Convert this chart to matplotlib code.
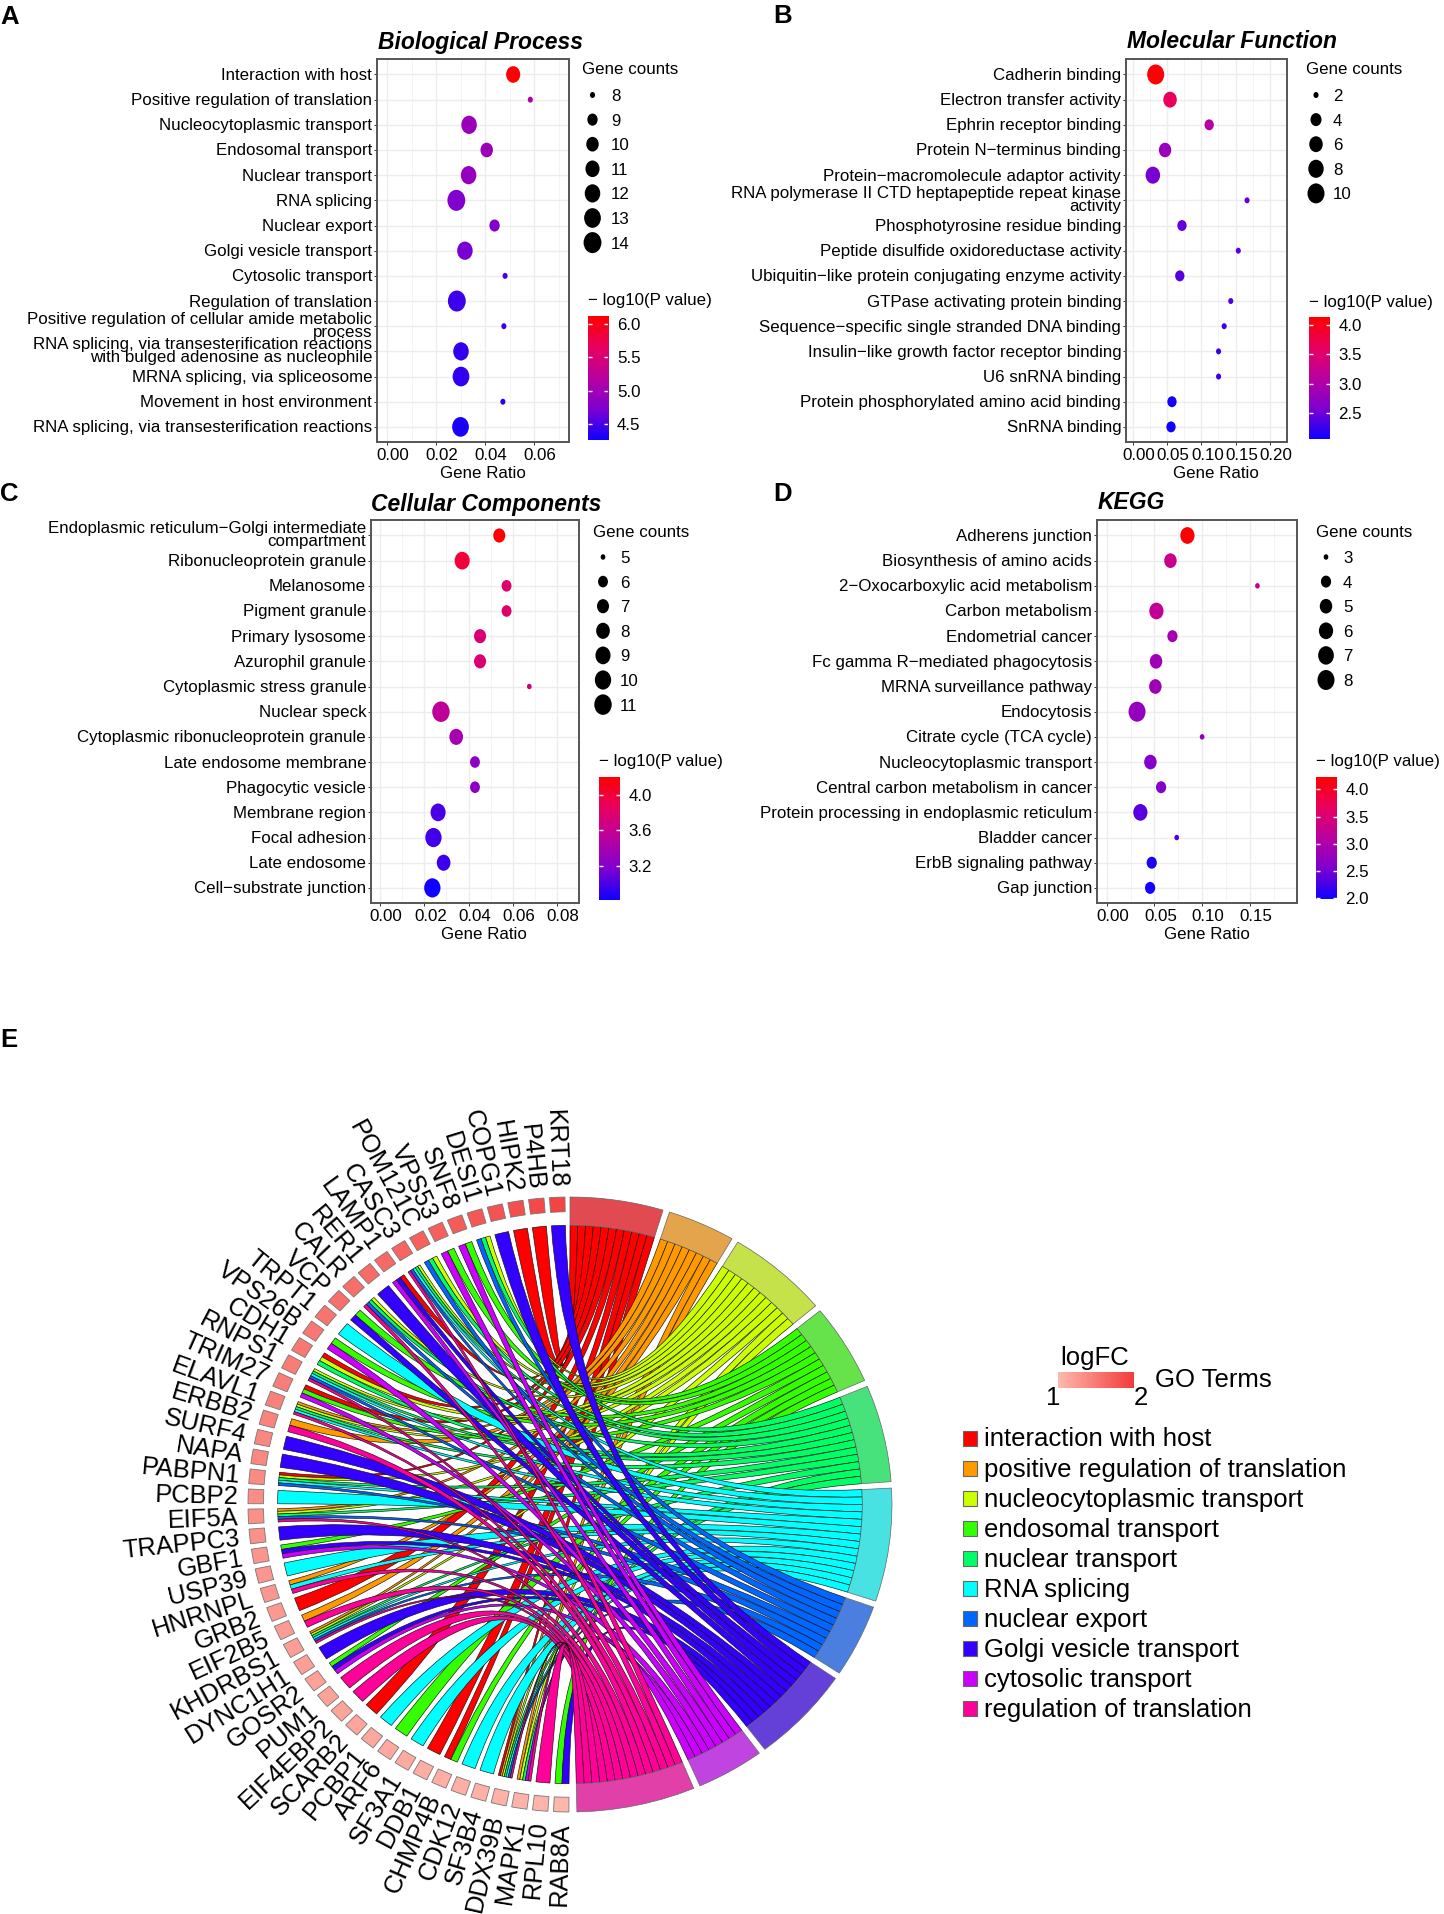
import numpy as np
import matplotlib
matplotlib.use("Agg")
import matplotlib.pyplot as plt
from matplotlib.colors import LinearSegmentedColormap
from matplotlib.markers import MarkerStyle
from matplotlib.patches import PathPatch, Rectangle
from matplotlib.path import Path
from matplotlib.transforms import Affine2D, ScaledTranslation

plt.rcParams["font.family"] = ["Liberation Sans", "DejaVu Sans"]

# panel A
bp_terms = ["Interaction with host", "Positive regulation of translation", "Nucleocytoplasmic transport",
            "Endosomal transport", "Nuclear transport", "RNA splicing", "Nuclear export",
            "Golgi vesicle transport", "Cytosolic transport", "Regulation of translation",
            "Positive regulation of cellular amide metabolic\nprocess",
            "RNA splicing, via transesterification reactions\nwith bulged adenosine as nucleophile",
            "MRNA splicing, via spliceosome", "Movement in host environment",
            "RNA splicing, via transesterification reactions"]
bp_ratio = [.0515, .0585, .0335, .0407, .0333, .0283, .0439, .0318, .0482, .0285, .0477, .0302, .0302, .0473, .0300]
bp_count = [11, 8, 12, 10, 12, 14, 9, 12, 8, 14, 8, 12, 13, 8, 13]
bp_logp = [6.1, 5.15, 4.95, 4.95, 4.9, 4.75, 4.75, 4.7, 4.5, 4.45, 4.45, 4.4, 4.4, 4.35, 4.3]

# panel B
mf_terms = ["Cadherin binding", "Electron transfer activity", "Ephrin receptor binding",
            "Protein N\u2212terminus binding", "Protein\u2212macromolecule adaptor activity",
            "RNA polymerase II CTD heptapeptide repeat kinase\nactivity", "Phosphotyrosine residue binding",
            "Peptide disulfide oxidoreductase activity", "Ubiquitin\u2212like protein conjugating enzyme activity",
            "GTPase activating protein binding", "Sequence\u2212specific single stranded DNA binding",
            "Insulin\u2212like growth factor receptor binding", "U6 snRNA binding",
            "Protein phosphorylated amino acid binding", "SnRNA binding"]
mf_ratio = [.0333, .0543, .1114, .0470, .0292, .1667, .0717, .1539, .0685, .1429, .1333, .1251, .1251, .0571, .0557]
mf_count = [10, 6, 3, 5, 7, 2, 3, 2, 3, 2, 2, 2, 2, 3, 3]
mf_logp = [4.1, 3.65, 3.05, 2.8, 2.55, 2.45, 2.45, 2.4, 2.38, 2.35, 2.3, 2.25, 2.25, 2.1, 2.06]

# panel C
cc_terms = ["Endoplasmic reticulum\u2212Golgi intermediate\ncompartment", "Ribonucleoprotein granule", "Melanosome",
            "Pigment granule", "Primary lysosome", "Azurophil granule", "Cytoplasmic stress granule", "Nuclear speck",
            "Cytoplasmic ribonucleoprotein granule", "Late endosome membrane", "Phagocytic vesicle",
            "Membrane region", "Focal adhesion", "Late endosome", "Cell\u2212substrate junction"]
cc_ratio = [.0539, .0371, .0572, .0572, .0452, .0452, .0675, .0275, .0344, .0429, .0429, .0262, .0241, .0287, .0236]
cc_count = [7, 9, 6, 6, 7, 7, 5, 11, 8, 6, 6, 9, 10, 8, 10]
cc_logp = [4.2, 4.0, 3.8, 3.8, 3.75, 3.75, 3.7, 3.55, 3.4, 3.25, 3.25, 3.0, 2.98, 2.95, 2.82]

# panel D
kegg_terms = ["Adherens junction", "Biosynthesis of amino acids", "2\u2212Oxocarboxylic acid metabolism",
              "Carbon metabolism", "Endometrial cancer", "Fc gamma R\u2212mediated phagocytosis",
              "MRNA surveillance pathway", "Endocytosis", "Citrate cycle (TCA cycle)",
              "Nucleocytoplasmic transport", "Central carbon metabolism in cancer",
              "Protein processing in endoplasmic reticulum", "Bladder cancer", "ErbB signaling pathway", "Gap junction"]
kegg_ratio = [.0846, .0668, .1580, .0521, .0689, .0517, .0510, .0318, .1000, .0458, .0570, .0353, .0734, .0472, .0455]
kegg_count = [6, 5, 3, 6, 4, 5, 5, 8, 3, 5, 4, 6, 3, 4, 4]
kegg_logp = [4.22, 3.3, 3.25, 3.2, 2.9, 2.85, 2.85, 2.75, 2.7, 2.6, 2.6, 2.35, 2.3, 2.05, 2.0]

# panel E
chord_terms = ["interaction with host", "positive regulation of translation", "nucleocytoplasmic transport",
               "endosomal transport", "nuclear transport", "RNA splicing", "nuclear export",
               "Golgi vesicle transport", "cytosolic transport", "regulation of translation"]
term_codes = "ROYGSCBIPM"
genes = ["KRT18", "P4HB", "HIPK2", "COPG1", "DESI1", "SNF8", "VPS53", "POM121C", "CASC3", "LAMP1", "RER1", "CALR",
         "VCP", "TRPT1", "VPS26B", "CDH1", "RNPS1", "TRIM27", "ELAVL1", "ERBB2", "SURF4", "NAPA", "PABPN1", "PCBP2",
         "EIF5A", "TRAPPC3", "GBF1", "USP39", "HNRNPL", "GRB2", "EIF2B5", "KHDRBS1", "DYNC1H1", "GOSR2", "PUM1",
         "EIF4EBP2", "SCARB2", "PCBP1", "ARF6", "SF3A1", "DDB1", "CHMP4B", "CDK12", "SF3B4", "DDX39B", "MAPK1",
         "RPL10", "RAB8A"]
gene_terms = ["I", "R", "R", "I", "YSB", "GP", "GP", "YSB", "YSCBM", "RIP", "I", "YSBM",
              "GI", "C", "GP", "RYS", "YSCBM", "RGP", "OYSCM", "OM", "I", "I", "RYSCB", "C",
              "OYSBM", "I", "GIP", "C", "OCM", "R", "OM", "OYSCBM", "I", "GIP", "M",
              "M", "R", "C", "G", "C", "R", "RG", "C", "C", "ROYSCBM", "OYSPM",
              "M", "GI"]
gene_logfc = [1.93, 1.89, 1.85, 1.81, 1.78, 1.75, 1.72, 1.70, 1.67, 1.64, 1.62, 1.60,
              1.58, 1.55, 1.53, 1.51, 1.49, 1.47, 1.45, 1.43, 1.41, 1.39, 1.37, 1.35,
              1.33, 1.32, 1.30, 1.28, 1.27, 1.25, 1.24, 1.22, 1.21, 1.19, 1.18,
              1.17, 1.15, 1.14, 1.13, 1.12, 1.10, 1.09, 1.08, 1.07, 1.06, 1.05, 1.04, 1.03]

ribbon_cols = ["#FF0000", "#FF9900", "#CCFF00", "#33FF00", "#00FF66", "#00FFFF", "#0066FF", "#3300FF", "#CC00FF", "#FF0099"]
ring_cols = ["#E04A50", "#E3A44C", "#C5E24A", "#66E24A", "#48E27C", "#48E2E2", "#4A7FE0", "#6440D8", "#C045E0", "#E040A8"]

W, H = 1444, 1915
DPI = 100
FS = 12.2

fig = plt.figure(figsize=(W / DPI, H / DPI), dpi=DPI)


def px_axes(left, top, right, bottom):
    return fig.add_axes([left / W, 1 - bottom / H, (right - left) / W, (bottom - top) / H])


# overlay in pixel units for legends, titles and letters
ov = fig.add_axes([0, 0, 1, 1], zorder=5)
ov.set_xlim(0, W)
ov.set_ylim(H, 0)
ov.axis("off")
ov.patch.set_alpha(0)

pval_cmap = LinearSegmentedColormap.from_list(
    "pval", ["#1000FF", "#7F00D0", "#B900A0", "#E80060", "#FF0000"])
egg = Path.unit_circle().transformed(Affine2D().scale(0.85, 1))


def dot_area(count, cmin, cmax, dmin, dmax):
    # ggplot area scale, diameter in px -> scatter size
    d = dmin + (dmax - dmin) * np.sqrt((np.asarray(count, float) - cmin) / (cmax - cmin))
    return (d * 72 / DPI) ** 2


def dotplot(terms, ratio, count, logp, box, x0, xscale, xticks, title, title_xy, counts_leg, cb_lim, cb_ticks,
            legend_x, cb_x, leg_y, xlabel_xy, dsize):
    left, top, right, bottom = box
    ax = px_axes(*box)
    y = np.arange(1, len(terms) + 1)
    sizes = dot_area(count, counts_leg[0], counts_leg[-1], *dsize)
    ax.scatter(ratio, y, s=sizes, c=logp, cmap=pval_cmap, vmin=cb_lim[0], vmax=cb_lim[1],
               marker=MarkerStyle(egg), linewidths=0, zorder=3)
    ax.set_xlim((left - x0) / xscale, (right - x0) / xscale)
    ax.set_ylim(15.6, 0.385)
    ax.set_yticks(y)
    ax.set_yticklabels(terms, fontsize=FS, linespacing=0.8, multialignment="right")
    ax.set_xticks(xticks)
    ax.set_xticks([(a + b) / 2 for a, b in zip(xticks[:-1], xticks[1:])] + [xticks[-1] + (xticks[1] - xticks[0]) / 2],
                  minor=True)
    ax.set_xticklabels(["%.2f" % v for v in xticks], fontsize=FS)
    ax.tick_params(axis="both", which="major", length=2.5, width=0.7, pad=1, color="#333333")
    ax.tick_params(axis="x", which="minor", length=0)
    shift = ScaledTranslation(6 / DPI, 0, fig.dpi_scale_trans)
    for lab in ax.get_xticklabels():
        lab.set_transform(lab.get_transform() + shift)
    lift = ScaledTranslation(0, 1.5 / DPI, fig.dpi_scale_trans)
    for lab in ax.get_yticklabels():
        lab.set_transform(lab.get_transform() + lift)
    ax.grid(True, which="major", color="#EDEDED", lw=1.0, zorder=0)
    ax.grid(True, which="minor", axis="x", color="#F2F2F2", lw=0.6, zorder=0)
    ax.set_axisbelow(True)
    for s in ax.spines.values():
        s.set_color("#555555")
        s.set_linewidth(1.4)

    ov.text(title_xy[0], title_xy[1], title, fontsize=16.5, fontweight="bold", fontstyle="italic",
            ha="center", va="center")
    ov.text(xlabel_xy[0], xlabel_xy[1], "Gene Ratio", fontsize=FS, ha="center", va="center")

    # gene count key
    kx, lx, ty = legend_x
    ov.text(kx - 10, ty + 1, "Gene counts", fontsize=FS, ha="left", va="center")
    ky = [leg_y + 24.6 * i for i in range(len(counts_leg))]
    ov.scatter([kx] * len(counts_leg), ky, s=dot_area(counts_leg, counts_leg[0], counts_leg[-1], *dsize),
               c="black", marker=MarkerStyle(egg), linewidths=0)
    for c, yy in zip(counts_leg, ky):
        ov.text(lx, yy + 0.5, str(c), fontsize=FS, ha="left", va="center")

    # colour bar
    bl, br, bt, bb = cb_x
    ov.text(bl, bt - 16, "\u2212 log10(P value)", fontsize=FS, ha="left", va="center")
    cax = px_axes(bl, bt, br, bb)
    grad = np.linspace(cb_lim[0], cb_lim[1], 256)[:, None]
    cax.imshow(grad, origin="lower", aspect="auto", extent=[0, 1, cb_lim[0], cb_lim[1]], cmap=pval_cmap,
               vmin=cb_lim[0], vmax=cb_lim[1])
    cax.hlines(cb_ticks, 0, 0.2, color="white", lw=1)
    cax.hlines(cb_ticks, 0.8, 1, color="white", lw=1)
    cax.set_xticks([])
    cax.yaxis.tick_right()
    cax.set_yticks(cb_ticks)
    cax.set_yticklabels(["%.1f" % v for v in cb_ticks], fontsize=FS)
    cax.tick_params(axis="y", length=0, pad=6)
    for lab in cax.get_yticklabels():
        lab.set_transform(lab.get_transform() + ScaledTranslation(0, 1 / DPI, fig.dpi_scale_trans))
    for s in cax.spines.values():
        s.set_visible(False)


dotplot(bp_terms, bp_ratio, bp_count, bp_logp, (377, 60, 569, 443), 387, 2450, [0, .02, .04, .06],
        "Biological Process", (480, 42.5), [8, 9, 10, 11, 12, 13, 14], (4.26, 6.12), [4.5, 5.0, 5.5, 6.0],
        (592.5, 611, 69), (587.5, 608.5, 317, 441), 96, (483, 473.5), (6, 21))
dotplot(mf_terms, mf_ratio, mf_count, mf_logp, (1126, 60, 1287, 443), 1133.3, 730, [0, .05, .10, .15, .20],
        "Molecular Function", (1232, 42), [2, 4, 6, 8, 10], (2.06, 4.13), [2.5, 3.0, 3.5, 4.0],
        (1316, 1333, 69), (1309, 1330, 318, 440), 96, (1216, 473.5), (6, 20))
dotplot(cc_terms, cc_ratio, cc_count, cc_logp, (371, 521, 579, 904), 380.7, 2325, [0, .02, .04, .06, .08],
        "Cellular Components", (486, 505), [5, 6, 7, 8, 9, 10, 11], (2.82, 4.2), [3.2, 3.6, 4.0],
        (603, 620, 532), (599, 620, 778, 901), 558, (484, 934.5), (5.5, 20.5))
dotplot(kegg_terms, kegg_ratio, kegg_count, kegg_logp, (1097, 521, 1297, 904), 1106.7, 954, [0, .05, .10, .15],
        "KEGG", (1131, 502.5), [3, 4, 5, 6, 7, 8], (1.98, 4.23), [2.0, 2.5, 3.0, 3.5, 4.0],
        (1326, 1343, 532), (1316, 1337, 778, 900), 558, (1207, 934.5), (5.5, 20))

for letter, lx, ly in [("A", 0, 17), ("B", 773, 16), ("C", 0, 494), ("D", 773, 494), ("E", 0, 1040)]:
    ov.text(lx, ly, letter, fontsize=18.5, fontweight="bold", ha="left", va="center")

# chord diagram, unit circle stretched by the axes box
cx, cy, rx, ry = 570, 1505.5, 322, 307.5
pad = 1.1
axc = px_axes(cx - pad * rx, cy - pad * ry, cx + pad * rx, cy + pad * ry)
axc.set_xlim(-pad, pad)
axc.set_ylim(-pad, pad)
axc.axis("off")

R_OUT, R_SQ, R_IN = 1.0, 0.952, 0.908
TERM_STEP, TERM_GAP = 1.527, 1.2
GENE_W, GENE_GAP = 2.75, 0.998
GENE_START = 359.1


def pt(angle, r):
    a = np.deg2rad(angle)
    return r * np.sin(a), r * np.cos(a)


def arc(a0, a1, r, n=8):
    return [pt(a, r) for a in np.linspace(a0, a1, n)]


def band(a0, a1, r0, r1):
    return arc(a0, a1, r1) + arc(a1, a0, r0)


term_counts = [sum(code in g for g in gene_terms) for code in term_codes]
term_pos = []
ang = 0.0
for n in term_counts:
    term_pos.append(ang)
    ang += n * TERM_STEP + TERM_GAP

gene_lo = [GENE_START - GENE_W - i * (GENE_W + GENE_GAP) for i in range(len(genes))]

# ribbons, terms in order so the later ones lie on top
for ti, code in enumerate(term_codes):
    members = [i for i, g in enumerate(gene_terms) if code in g]
    for k, gi in enumerate(members):
        ta = term_pos[ti] + k * TERM_STEP
        tb = ta + TERM_STEP
        parts = gene_terms[gi]
        slot = parts.index(code)
        share = GENE_W / len(parts)
        gb = gene_lo[gi] + GENE_W - slot * share
        ga = gb - share
        verts = arc(ta, tb, R_IN)
        codes = [Path.MOVETO] + [Path.LINETO] * (len(verts) - 1)
        verts += [(0, 0), pt(ga, R_IN)]
        codes += [Path.CURVE3, Path.CURVE3]
        tail = arc(ga, gb, R_IN)[1:]
        verts += tail
        codes += [Path.LINETO] * len(tail)
        verts += [(0, 0), pt(ta, R_IN)]
        codes += [Path.CURVE3, Path.CURVE3]
        axc.add_patch(PathPatch(Path(verts, codes), fc=ribbon_cols[ti], ec="#111111", lw=0.45, zorder=2 + ti * 0.01))

# term ring
for ti, n in enumerate(term_counts):
    poly = band(term_pos[ti], term_pos[ti] + n * TERM_STEP, R_IN, R_OUT)
    axc.fill(*zip(*poly), fc=ring_cols[ti], ec="#666666", lw=0.5, zorder=3)

# gene squares and labels
fc_cmap = LinearSegmentedColormap.from_list("logfc", ["#FFB9AE", "#F23C3C"])
for name, lo, fc in zip(genes, gene_lo, gene_logfc):
    poly = band(lo, lo + GENE_W, R_SQ, R_OUT)
    axc.fill(*zip(*poly), fc=fc_cmap(fc - 1), ec="#777777", lw=0.6, zorder=3)
    mid = lo + GENE_W / 2
    a = np.deg2rad(mid)
    rot = np.degrees(np.arctan2(-np.cos(a), -np.sin(a)))
    x, y = pt(mid, 1.03)
    axc.text(x, y, name, fontsize=18.4, rotation=rot, rotation_mode="anchor", ha="right", va="center", clip_on=False)

# chord legend
ov.text(1095, 1358, "logFC", fontsize=18.5, ha="center", va="center")
ov.text(1053, 1398, "1", fontsize=18.5, ha="center", va="center")
ov.text(1141, 1398, "2", fontsize=18.5, ha="center", va="center")
ov.text(1155, 1380, "GO Terms", fontsize=18.5, ha="left", va="center")
bar = px_axes(1058, 1373, 1134, 1389)
bar.imshow(np.linspace(0, 1, 128)[None, :], aspect="auto", cmap=fc_cmap, vmin=0, vmax=1)
bar.axis("off")
for i, (label, col) in enumerate(zip(chord_terms, ribbon_cols)):
    yy = 1439.5 + 30.05 * i
    ov.add_patch(Rectangle((962.5, yy - 7.5), 14.5, 15, fc=col, ec="#666666", lw=0.8))
    ov.text(984, yy, label, fontsize=18.5, ha="left", va="center")

fig.savefig("out.png", dpi=DPI)
